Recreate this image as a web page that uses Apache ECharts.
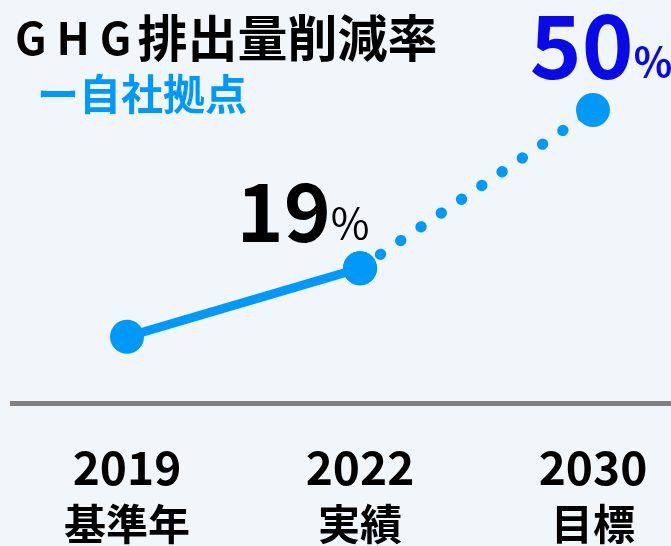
<!DOCTYPE html>
<html>
<head>
<meta charset="utf-8">
<script src="https://cdn.jsdelivr.net/npm/echarts@6/dist/echarts.min.js"></script>
<style>
  html, body { margin: 0; padding: 0; background: #f1f6fb; }
  #chart { width: 671px; height: 546px; }
</style>
</head>
<body>
<div id="chart"></div>
<script>
// データ
var years = ['2019', '2022', '2030'];
var yearNotes = ['基準年', '実績', '目標'];
var rates = [0, 19, 50];                 // 削減率(%)
var actualLevel = [11.3, 23, null];      // 図上の高さ（実績・実線）
var targetLevel = [null, 23, 50];        // 図上の高さ（目標・点線）

var cjk = '"Noto Sans CJK JP", "Noto Sans", sans-serif';
var lineColor = '#0099fa';

var myChart = echarts.init(document.getElementById('chart'));

myChart.setOption({
    backgroundColor: '#f1f6fb',
    animation: false,
    title: [{
        text: '{g|G H G}{t|排出量削減率}',
        left: 10,
        top: 8,
        textStyle: {
            rich: {
                g: { fontFamily: cjk, fontSize: 44, fontWeight: 'bold', color: '#000', padding: [0, 6, 0, 0] },
                t: { fontFamily: cjk, fontSize: 50, fontWeight: 'bold', color: '#000' }
            }
        }
    }, {
        text: 'ー自社拠点',
        left: 32,
        top: 68,
        textStyle: { fontFamily: cjk, fontSize: 42, fontWeight: 'bold', color: lineColor }
    }],
    // 横軸の線は図の端から端まで
    graphic: [{
        type: 'rect',
        shape: { x: 10, y: 401, width: 661, height: 5 },
        style: { fill: '#808080' },
        silent: true
    }],
    grid: { left: 127, right: 78, top: 110, bottom: 143 },
    xAxis: {
        type: 'category',
        data: years,
        boundaryGap: false,
        axisLine: { show: false },
        axisTick: { show: false },
        axisLabel: {
            margin: 37,
            formatter: function (v, i) {
                return '{y|' + v + '}\n{n|' + yearNotes[i] + '}';
            },
            rich: {
                y: { fontFamily: cjk, fontSize: 46, fontWeight: 'bold', color: '#000', lineHeight: 56 },
                n: { fontFamily: cjk, fontSize: 42, fontWeight: 'bold', color: '#000', lineHeight: 56 }
            }
        }
    },
    yAxis: { type: 'value', min: 0, max: 50, show: false },
    series: [{
        name: '実績',
        type: 'line',
        data: actualLevel,
        clip: false,
        symbol: 'circle',
        symbolSize: 34,
        itemStyle: { color: lineColor },
        lineStyle: { color: lineColor, width: 9 },
        label: {
            show: true,
            position: 'top',
            offset: [-57, 5],
            formatter: function (p) {
                return p.dataIndex === 1 ? '{a|' + rates[1] + '}{b|%}' : '';
            },
            rich: {
                a: { fontFamily: cjk, fontSize: 80, fontWeight: 'bold', color: '#000', lineHeight: 80, verticalAlign: 'bottom' },
                b: { fontFamily: cjk, fontSize: 42, fontWeight: 'normal', color: '#000', lineHeight: 42, verticalAlign: 'bottom', padding: [0, 0, 7, 0] }
            }
        },
        z: 3
    }, {
        name: '目標',
        type: 'line',
        data: targetLevel,
        clip: false,
        symbol: 'circle',
        symbolSize: 34,
        itemStyle: { color: lineColor },
        lineStyle: { color: lineColor, width: 11, type: [0.5, 24], cap: 'round' },
        label: {
            show: true,
            position: 'top',
            offset: [8, 2],
            formatter: function (p) {
                return p.dataIndex === 2 ? '{a|' + rates[2] + '}{b|%}' : '';
            },
            rich: {
                a: { fontFamily: cjk, fontSize: 88, fontWeight: 'bold', color: '#0a0ae6', lineHeight: 88, verticalAlign: 'bottom' },
                b: { fontFamily: cjk, fontSize: 40, fontWeight: 'bold', color: '#0a0ae6', lineHeight: 40, verticalAlign: 'bottom', padding: [0, 0, 8, 0] }
            }
        },
        z: 2
    }]
});
</script>
</body>
</html>
